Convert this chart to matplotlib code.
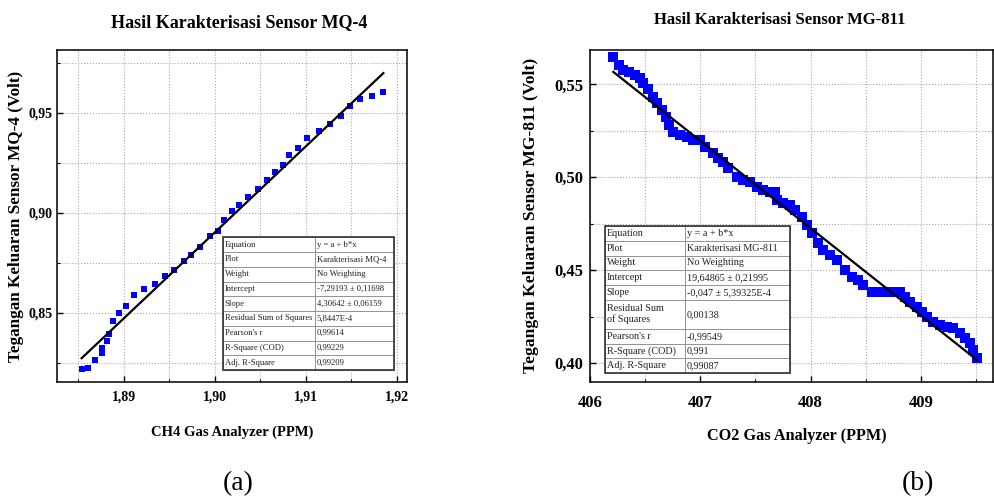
import numpy as np
import matplotlib
matplotlib.use("Agg")
from matplotlib import pyplot as plt
from matplotlib.ticker import MultipleLocator, FuncFormatter
from matplotlib.patches import Rectangle

plt.rcParams['font.family'] = ['Liberation Serif', 'DejaVu Serif']

# --- MQ-4 (CH4) data
ch4_ppm = [1.8854, 1.8861, 1.8869, 1.8876, 1.8876, 1.8882, 1.8884, 1.8888, 1.8895,
           1.8903, 1.8912, 1.8922, 1.8935, 1.8945, 1.8955, 1.8966, 1.8974, 1.8984,
           1.8995, 1.9004, 1.9010, 1.9019, 1.9027, 1.9036, 1.9047, 1.9057, 1.9066,
           1.9075, 1.9081, 1.9091, 1.9101, 1.9114, 1.9127, 1.9138, 1.9148, 1.9159,
           1.9172, 1.9185]
mq4_volt = [0.8219, 0.8227, 0.8265, 0.8302, 0.8327, 0.8360, 0.8393, 0.8460, 0.8498,
            0.8534, 0.8588, 0.8618, 0.8646, 0.8684, 0.8717, 0.8759, 0.8792, 0.8830,
            0.8883, 0.8908, 0.8967, 0.9008, 0.9041, 0.9080, 0.9120, 0.9166, 0.9204,
            0.9241, 0.9291, 0.9324, 0.9374, 0.9410, 0.9445, 0.9485, 0.9535, 0.9568,
            0.9585, 0.9603]
mq4_fit = (-7.29193, 4.30642)  # intercept, slope

# --- MG-811 (CO2) data
co2_ppm = [406.211, 406.266, 406.302, 406.356, 406.408, 406.453, 406.483, 406.529,
           406.574, 406.604, 406.650, 406.689, 406.716, 406.755, 406.816, 406.876,
           406.937, 406.997, 407.042, 407.118, 407.163, 407.208, 407.254, 407.329,
           407.390, 407.450, 407.511, 407.571, 407.631, 407.677, 407.692, 407.752,
           407.813, 407.858, 407.918, 407.964, 408.009, 408.069, 408.115, 408.175,
           408.236, 408.311, 408.372, 408.432, 408.477, 408.553, 408.628, 408.689,
           408.749, 408.810, 408.855, 408.900, 408.961, 409.006, 409.051, 409.112,
           409.172, 409.233, 409.293, 409.353, 409.399, 409.444, 409.474, 409.505]
mg811_volt = [0.5649, 0.5604, 0.5577, 0.5568, 0.5550, 0.5532, 0.5505, 0.5473,
              0.5434, 0.5398, 0.5362, 0.5326, 0.5281, 0.5246, 0.5228, 0.5219,
              0.5201, 0.5201, 0.5165, 0.5129, 0.5102, 0.5084, 0.5048, 0.5004,
              0.4986, 0.4977, 0.4950, 0.4932, 0.4923, 0.4923, 0.4878, 0.4860,
              0.4851, 0.4824, 0.4789, 0.4744, 0.4699, 0.4645, 0.4609, 0.4583,
              0.4556, 0.4502, 0.4466, 0.4448, 0.4421, 0.4385, 0.4385, 0.4385,
              0.4385, 0.4385, 0.4358, 0.4332, 0.4305, 0.4278, 0.4251, 0.4224,
              0.4206, 0.4197, 0.4188, 0.4161, 0.4134, 0.4108, 0.4072, 0.4027]
mg811_fit = (19.64865, -0.047)

# fit tables
row_names = ["Equation", "Plot", "Weight", "Intercept", "Slope",
             "Residual Sum of Squares", "Pearson's r", "R-Square (COD)", "Adj. R-Square"]
row_names_b = row_names[:5] + ["Residual Sum\nof Squares"] + row_names[6:]
mq4_vals = ["y = a + b*x", "Karakterisasi MQ-4", "No Weighting", "-7,29193 \u00b1 0,11698",
            "4,30642 \u00b1 0,06159", "5,8447E-4", "0,99614", "0,99229", "0,99209"]
mg811_vals = ["y = a + b*x", "Karakterisasi MG-811", "No Weighting", "19,64865 \u00b1 0,21995",
              "-0,047 \u00b1 5,39325E-4", "0,00138", "-0,99549", "0,991", "0,99087"]


def comma(fmt):
    return FuncFormatter(lambda v, p: (fmt % v).replace('.', ','))


def style_axis(ax, fs, xpad, ypad):
    ax.grid(True, which='both', linestyle=':', color='#a8a8a8', linewidth=0.8)
    ax.set_axisbelow(True)
    ax.tick_params(which='both', direction='in', top=False, right=False)
    ax.tick_params(which='major', length=4, width=1, labelsize=fs)
    ax.tick_params(axis='x', which='major', pad=xpad)
    ax.tick_params(axis='y', which='major', pad=ypad)
    ax.tick_params(which='minor', length=2.5, width=0.8)
    for t in ax.get_xticklabels() + ax.get_yticklabels():
        t.set_fontweight('bold')
    for s in ax.spines.values():
        s.set_linewidth(1.1)


def fit_table(ax, names, vals, bbox, col0, fs, tall_row=None):
    tab = ax.table(cellText=[[n, v] for n, v in zip(names, vals)],
                   colWidths=[col0, 1 - col0], cellLoc='left', bbox=bbox, zorder=5)
    tab.auto_set_font_size(False)
    tab.set_fontsize(fs)
    for (r, c), cell in tab.get_celld().items():
        cell.set_edgecolor('#8c8c8c')
        cell.set_linewidth(0.6)
        cell.set_facecolor('white')
        cell.PAD = 0.02
        cell.get_text().set_color('#222222')
        if tall_row is not None and r == tall_row:
            cell.set_height(cell.get_height() * 2)
    ax.add_patch(Rectangle(bbox[:2], bbox[2], bbox[3], transform=ax.transAxes,
                           fill=False, edgecolor='#333333', linewidth=1.2, zorder=6))


fig = plt.figure(figsize=(9.95, 4.98), dpi=100)

# ---------- (a) MQ-4
ax1 = fig.add_axes([0.0573, 0.2329, 0.3518, 0.6667])
ax1.plot(ch4_ppm, mq4_volt, 's', color='#0000ff', markersize=5, markeredgewidth=0)
xf = np.array([min(ch4_ppm), max(ch4_ppm)])
ax1.plot(xf, mq4_fit[0] + mq4_fit[1] * xf, color='black', linewidth=1.6)
ax1.set_xlim(1.8827, 1.9211)
ax1.set_ylim(0.8155, 0.9815)
ax1.xaxis.set_major_locator(MultipleLocator(0.01))
ax1.xaxis.set_minor_locator(MultipleLocator(0.005))
ax1.yaxis.set_major_locator(MultipleLocator(0.05))
ax1.yaxis.set_minor_locator(MultipleLocator(0.025))
ax1.xaxis.set_major_formatter(comma('%.2f'))
ax1.yaxis.set_major_formatter(comma('%.2f'))
style_axis(ax1, 10, 6, 3)
ax1.set_xlabel("CH4 Gas Analyzer (PPM)", fontsize=10.5, fontweight='bold')
ax1.xaxis.set_label_coords(0.5, -0.13)
ax1.set_ylabel("Tegangan Keluaran Sensor MQ-4 (Volt)", fontsize=12.3, fontweight='bold',
               va='center')
ax1.yaxis.set_label_coords(-0.118, 0.5)
fit_table(ax1, row_names, mq4_vals, [0.4734, 0.0361, 0.4903, 0.3997], 0.538, 6.2)

# ---------- (b) MG-811
ax2 = fig.add_axes([0.593, 0.2329, 0.405, 0.6667])
ax2.plot(co2_ppm, mg811_volt, 's', color='#0000ff', markersize=6.5, markeredgewidth=0)
xf = np.array([min(co2_ppm), max(co2_ppm)])
ax2.plot(xf, mg811_fit[0] + mg811_fit[1] * xf, color='black', linewidth=1.6)
ax2.set_xlim(406.0, 409.654)
ax2.set_ylim(0.3899, 0.5685)
ax2.xaxis.set_major_locator(MultipleLocator(1))
ax2.xaxis.set_minor_locator(MultipleLocator(0.5))
ax2.yaxis.set_major_locator(MultipleLocator(0.05))
ax2.yaxis.set_minor_locator(MultipleLocator(0.025))
ax2.xaxis.set_major_formatter(comma('%.0f'))
ax2.yaxis.set_major_formatter(comma('%.2f'))
style_axis(ax2, 12, 9, 5)
ax2.set_xlabel("CO2 Gas Analyzer (PPM)", fontsize=11.7, fontweight='bold')
ax2.xaxis.set_label_coords(0.512, -0.139)
ax2.set_ylabel("Tegangan Keluaran Sensor MG-811 (Volt)", fontsize=12.6, fontweight='bold',
               va='center')
ax2.yaxis.set_label_coords(-0.146, 0.503)
fit_table(ax2, row_names_b, mg811_vals, [0.0372, 0.0271, 0.459, 0.4419], 0.432, 7.3,
          tall_row=5)

# titles and captions
fig.text(239 / 995, 1 - 23 / 498, "Hasil Karakterisasi Sensor MQ-4", fontsize=13,
         fontweight='bold', ha='center', va='center')
fig.text(780 / 995, 1 - 20 / 498, "Hasil Karakterisasi Sensor MG-811", fontsize=12,
         fontweight='bold', ha='center', va='center')
fig.text(238 / 995, 1 - 484 / 498, "(a)", fontsize=20, ha='center', va='center')
fig.text(918 / 995, 1 - 484 / 498, "(b)", fontsize=20, ha='center', va='center')

fig.savefig("out.png", dpi=100)
